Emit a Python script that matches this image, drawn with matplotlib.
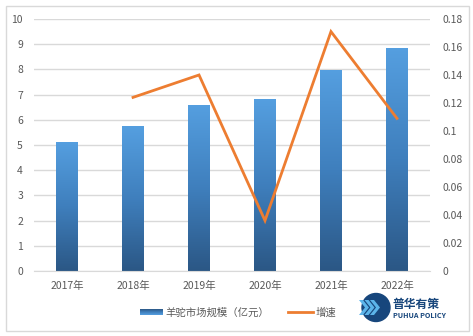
import numpy as np
import matplotlib.pyplot as plt
from matplotlib.patches import FancyBboxPatch, Circle, Polygon
from matplotlib.lines import Line2D
from matplotlib.colors import LinearSegmentedColormap

plt.rcParams['font.family'] = ['Noto Sans CJK SC', 'DejaVu Sans']

years = ['2017年', '2018年', '2019年', '2020年', '2021年', '2022年']
market_size = [5.12, 5.75, 6.59, 6.83, 7.98, 8.85]
growth = [None, 0.124, 0.140, 0.036, 0.171, 0.109]

fig = plt.figure(figsize=(4.73, 3.36), dpi=100)
fig.patches.append(FancyBboxPatch((0.013, 0.015), 0.979, 0.968, boxstyle='square,pad=0',
                                  transform=fig.transFigure, fill=False, ec='#d9d9d9', lw=1.0))
ax = fig.add_axes([0.072, 0.1935, 0.837, 0.75])
ax2 = ax.twinx()

x = np.arange(len(years))
bars = ax.bar(x, market_size, width=0.32, color='none', zorder=2)
cmap = LinearSegmentedColormap.from_list('bar', ['#2b5785', '#3f7fbd', '#559fe0'])
grad = np.linspace(0, 1, 256).reshape(-1, 1)
for b in bars:
    x0, w, h = b.get_x(), b.get_width(), b.get_height()
    im = ax.imshow(grad, cmap=cmap, origin='lower', aspect='auto',
                   extent=(x0, x0 + w, 0, h), zorder=2)
    im.set_clip_path(b)

ax.set_xlim(-0.5, 5.5)
ax.set_ylim(0, 10)
ax.set_yticks(range(0, 11))
ax.grid(axis='y', color='#d9d9d9', lw=1.0, zorder=0)
ax.set_axisbelow(True)
for s in ['top', 'right', 'left']:
    ax.spines[s].set_visible(False)
ax.spines['bottom'].set_color('#d9d9d9')
ax.set_xticks(x)
ax.set_xticklabels(years)
ax.tick_params(axis='both', length=0, labelsize=7.5, labelcolor='#595959')
ax.tick_params(axis='x', pad=7)
ax.tick_params(axis='y', pad=8)

gx = [i for i, g in enumerate(growth) if g is not None]
gy = [g for g in growth if g is not None]
ax2.plot(gx, gy, color='#ed7d31', lw=2.0, solid_joinstyle='miter', zorder=3)
ax2.set_ylim(0, 0.18)
ax2.set_yticks(np.arange(0, 0.181, 0.02))
ax2.set_yticklabels(['0', '0.02', '0.04', '0.06', '0.08', '0.1', '0.12', '0.14', '0.16', '0.18'])
ax2.tick_params(axis='y', length=0, labelsize=7.5, labelcolor='#595959', pad=9)
for s in ax2.spines.values():
    s.set_visible(False)

# legend and logo drawn in pixel coordinates
lax = fig.add_axes([0, 0, 1, 1], facecolor='none')
lax.set_xlim(0, 473)
lax.set_ylim(336, 0)
lax.axis('off')
lg = np.linspace(0, 1, 64).reshape(-1, 1)
lax.imshow(lg, cmap=cmap, aspect='auto', extent=(140, 163, 315, 309))
lax.text(165, 312.5, '羊驼市场规模（亿元）', fontsize=7.5, color='#595959', va='center')
lax.add_line(Line2D([288, 313], [311.5, 311.5], color='#ed7d31', lw=2.0))
lax.text(316, 312.5, '增速', fontsize=7.5, color='#595959', va='center')

lax.add_patch(Circle((376, 307.5), 14, color='#17467c'))
for dx in (-8, -2.5, 3):
    lax.add_patch(Polygon([(367 + dx, 300), (371 + dx, 300), (377 + dx, 307.5),
                           (371 + dx, 315), (367 + dx, 315), (373 + dx, 307.5)],
                          closed=True, color='#5cb4ea', ec='none'))
lax.text(392, 304, '普华有策', fontsize=8.5, fontweight='bold', color='#17467c', va='center')
lax.text(393, 316, 'PUHUA POLICY', fontsize=5.2, fontweight='bold', color='#17467c', va='center')

fig.savefig('out.png', dpi=100)
